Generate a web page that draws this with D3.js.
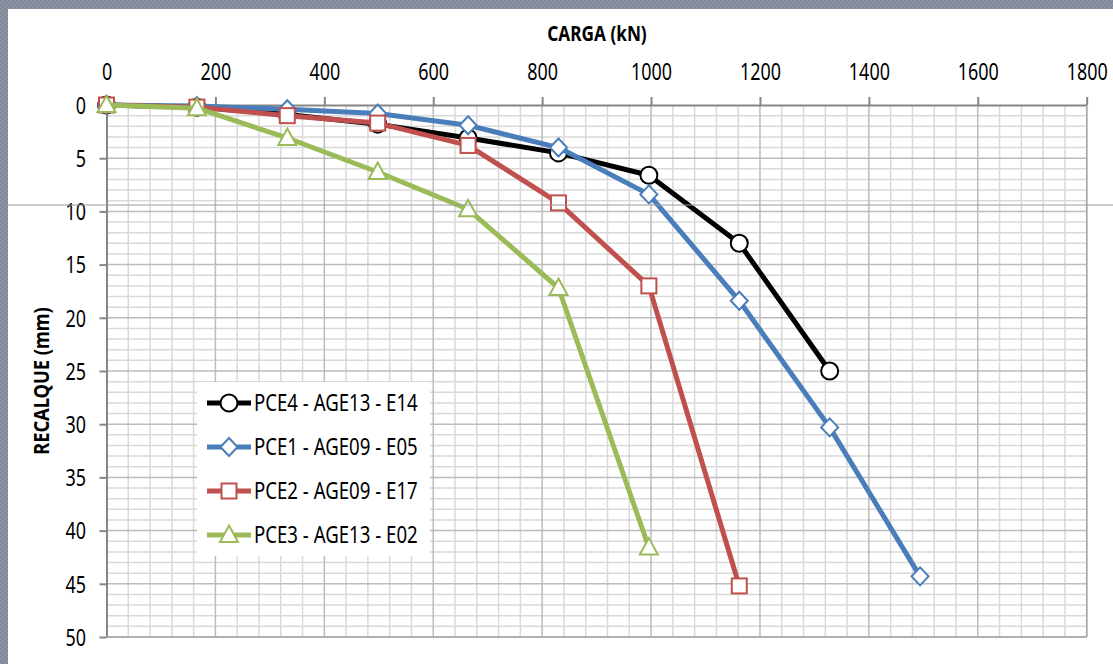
<!DOCTYPE html>
<html>
<head>
<meta charset="utf-8">
<script src="https://cdn.jsdelivr.net/npm/d3@7"></script>
<style>
  html, body { margin: 0; padding: 0; background: #fff; }
  #chart { width: 1113px; height: 664px; }
</style>
</head>
<body>
<div id="chart"></div>
<script>
// Load steps (kN) shared by all the tests
const loads = [0, 166, 332, 498, 664, 830, 996, 1162, 1328, 1494]

// Settlement (mm) per test, one value per load step until the test stopped
const pce4 = [0, 0.2, 0.9, 1.8, 3.1, 4.5, 6.6, 13.0, 25.0]
const pce1 = [0, 0.1, 0.4, 0.8, 1.9, 4.0, 8.4, 18.4, 30.3, 44.3]
const pce2 = [0, 0.2, 1.0, 1.7, 3.8, 9.2, 17.0, 45.2]
const pce3 = [0, 0.3, 3.1, 6.3, 9.8, 17.2, 41.6]

const seriesNames = ["PCE4 - AGE13 - E14", "PCE1 - AGE09 - E05", "PCE2 - AGE09 - E17", "PCE3 - AGE13 - E02"]
const xTicks = [0, 200, 400, 600, 800, 1000, 1200, 1400, 1600, 1800]
const yTicks = [0, 5, 10, 15, 20, 25, 30, 35, 40, 45, 50]

const SERIES = [
  { name: seriesNames[0], values: pce4, color: "#000000", marker: "circle" },
  { name: seriesNames[1], values: pce1, color: "#4a7ebb", marker: "diamond" },
  { name: seriesNames[2], values: pce2, color: "#c0504d", marker: "square" },
  { name: seriesNames[3], values: pce3, color: "#9bbb59", marker: "triangle" }
]

const width = 1113
const height = 664
const FONT = "'Noto Sans', 'Open Sans', sans-serif"
const SQUEEZE = 0.78 // the source text is narrow, like a condensed Calibri

const svg = d3.select("#chart")
  .append("svg")
  .attr("width", width)
  .attr("height", height)
  .attr("viewBox", `0 0 ${width} ${height}`)

// Textured slide frame (top and left strips)
const pat = svg.append("defs").append("pattern")
  .attr("id", "weave")
  .attr("patternUnits", "userSpaceOnUse")
  .attr("width", 4).attr("height", 4)
pat.append("rect").attr("width", 4).attr("height", 4).attr("fill", "#858a9a")
pat.append("path").attr("d", "M0,4 L4,0")
  .attr("stroke", "#979cab").attr("stroke-width", 1)

svg.append("rect").attr("width", width).attr("height", height).attr("fill", "#fff")
svg.append("rect").attr("x", 0).attr("y", 0).attr("width", width).attr("height", 9).attr("fill", "url(#weave)")
svg.append("rect").attr("x", 0).attr("y", 0).attr("width", 8).attr("height", height).attr("fill", "url(#weave)")

const x = d3.scaleLinear().domain([0, 1800]).range([106.5, 1086.7])
const y = d3.scaleLinear().domain([0, 50]).range([105, 637])

const g = svg.append("g")

// Minor gridlines
g.append("g")
  .selectAll("line")
  .data(d3.range(0, 1801, 40).filter(v => v % 200 !== 0))
  .enter().append("line")
  .attr("x1", d => x(d)).attr("x2", d => x(d))
  .attr("y1", y(0)).attr("y2", y(50))
  .attr("stroke", "#d9d9d9").attr("stroke-width", 1.5)

g.append("g")
  .selectAll("line")
  .data(d3.range(0, 51, 1).filter(v => v % 5 !== 0))
  .enter().append("line")
  .attr("x1", x(0)).attr("x2", x(1800))
  .attr("y1", d => y(d)).attr("y2", d => y(d))
  .attr("stroke", "#d9d9d9").attr("stroke-width", 1.5)

// Major gridlines
g.append("g")
  .selectAll("line")
  .data(xTicks.slice(1))
  .enter().append("line")
  .attr("x1", d => x(d)).attr("x2", d => x(d))
  .attr("y1", y(0)).attr("y2", y(50))
  .attr("stroke", "#bcbcbc").attr("stroke-width", 1.5)

g.append("g")
  .selectAll("line")
  .data(yTicks.slice(1))
  .enter().append("line")
  .attr("x1", x(0)).attr("x2", x(1800))
  .attr("y1", d => y(d)).attr("y2", d => y(d))
  .attr("stroke", "#bcbcbc").attr("stroke-width", 1.5)

// Stray rule across the slide
svg.append("line")
  .attr("x1", 8).attr("x2", width)
  .attr("y1", 205).attr("y2", 205)
  .attr("stroke", "#9a9a9a").attr("stroke-width", 1)

// Axes
const xAxis = g.append("g")
  .attr("transform", `translate(0,${y(0)})`)
  .call(d3.axisTop(x).tickValues(xTicks).tickFormat(d3.format("d"))
    .tickSize(8).tickSizeOuter(0).tickPadding(17))
const yAxis = g.append("g")
  .attr("transform", `translate(${x(0)},0)`)
  .call(d3.axisLeft(y).tickValues(yTicks).tickSize(7).tickSizeOuter(0))

svg.selectAll(".domain, .tick line").attr("stroke", "#868686").attr("stroke-width", 2)
xAxis.selectAll("text")
  .attr("font-family", FONT).attr("font-size", "23px").attr("fill", "#000")
  .attr("transform", `scale(${SQUEEZE},1)`)
yAxis.selectAll("text")
  .attr("font-family", FONT).attr("font-size", "23px").attr("fill", "#000")
  .attr("x", -20.5 / SQUEEZE)
  .attr("dy", "0.36em")
  .attr("transform", `scale(${SQUEEZE},1)`)

// Right and bottom edge of the plot area
g.append("line")
  .attr("x1", x(1800)).attr("x2", x(1800)).attr("y1", y(0)).attr("y2", y(50))
  .attr("stroke", "#a6a6a6").attr("stroke-width", 1.5)
g.append("line")
  .attr("x1", x(0)).attr("x2", x(1800)).attr("y1", y(50)).attr("y2", y(50))
  .attr("stroke", "#a6a6a6").attr("stroke-width", 1.5)

// Titles
svg.append("text")
  .attr("transform", `translate(597,41) scale(0.82,1)`)
  .attr("text-anchor", "middle")
  .attr("font-family", FONT).attr("font-size", "21px").attr("font-weight", "bold")
  .text("CARGA (kN)")

svg.append("text")
  .attr("transform", `translate(49,381) rotate(-90) scale(0.87,1)`)
  .attr("text-anchor", "middle")
  .attr("font-family", FONT).attr("font-size", "21px").attr("font-weight", "bold")
  .text("RECALQUE (mm)")

// Marker shapes
function drawMarker(sel, type, color) {
  if (type === "circle") {
    sel.append("circle").attr("r", 8.5)
  } else if (type === "diamond") {
    sel.append("path").attr("d", "M0,-9 L8.5,0 L0,9 L-8.5,0 Z")
  } else if (type === "square") {
    sel.append("rect").attr("x", -7.5).attr("y", -7.5).attr("width", 15).attr("height", 15)
  } else {
    sel.append("path").attr("d", "M0,-9.5 L9,7 L-9,7 Z")
  }
  sel.selectAll("*")
    .attr("fill", "#fff")
    .attr("stroke", color)
    .attr("stroke-width", 2)
}

// Series
const line = d3.line()
  .x((d, i) => x(loads[i]))
  .y(d => y(d))

SERIES.forEach(s => {
  const sg = g.append("g")
  sg.append("path")
    .datum(s.values)
    .attr("d", line)
    .attr("fill", "none")
    .attr("stroke", s.color)
    .attr("stroke-width", 5)
    .attr("stroke-linejoin", "round")

  s.values.forEach((v, i) => {
    const m = sg.append("g").attr("transform", `translate(${x(loads[i])},${y(v)})`)
    drawMarker(m, s.marker, s.color)
  })
})

// Legend
const legend = svg.append("g")
legend.append("rect")
  .attr("x", 197).attr("y", 382).attr("width", 233).attr("height", 174)
  .attr("fill", "#fff")

SERIES.forEach((s, i) => {
  const cy = 403 + i * 44
  const row = legend.append("g")
  row.append("line")
    .attr("x1", 207).attr("x2", 251).attr("y1", cy).attr("y2", cy)
    .attr("stroke", s.color).attr("stroke-width", 5)
  const m = row.append("g").attr("transform", `translate(229,${cy})`)
  drawMarker(m, s.marker, s.color)
  row.append("text")
    .attr("transform", `translate(254,${cy}) scale(0.81,1)`)
    .attr("dy", "0.36em")
    .attr("font-family", FONT).attr("font-size", "23px").attr("fill", "#000")
    .text(s.name)
})
</script>
</body>
</html>
